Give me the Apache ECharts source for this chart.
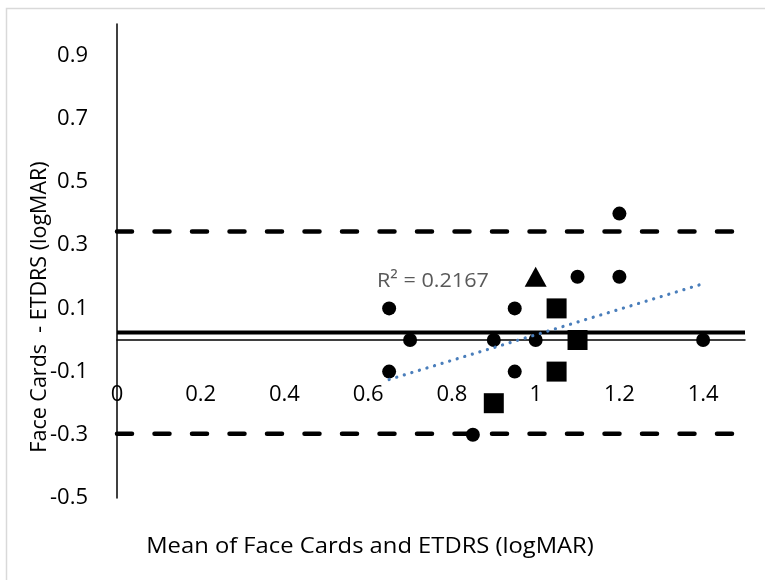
<!DOCTYPE html>
<html>
<head>
<meta charset="utf-8">
<script src="https://cdn.jsdelivr.net/npm/echarts@6/dist/echarts.min.js"></script>
<style>
  html, body { margin: 0; padding: 0; background: #ffffff; }
  #chart { width: 765px; height: 580px; }
</style>
</head>
<body>
<div id="chart"></div>
<script>
// Bland-Altman plot: difference vs. mean of Face Cards and ETDRS acuity (logMAR)

// Participants shown as circles
const circleMean = [0.65, 0.65, 0.70, 0.85, 0.90, 0.95, 0.95, 1.00, 1.10, 1.20, 1.20, 1.40];
const circleDiff = [0.10, -0.10, 0.00, -0.30, 0.00, 0.10, -0.10, 0.00, 0.20, 0.20, 0.40, 0.00];

// Participants shown as squares
const squareMean = [1.05, 1.10, 1.05, 0.90];
const squareDiff = [0.10, 0.00, -0.10, -0.20];

// Participant shown as a triangle
const triangleMean = [1.00];
const triangleDiff = [0.20];

// Mean difference and 95% limits of agreement
const meanDiff = 0.024;
const upperLimit = 0.343;
const lowerLimit = -0.297;

// Linear trend of difference against mean
const trendMean = [0.65, 1.40];
const trendDiff = [-0.125, 0.178];
const trendR2 = '0.2167';

// Axis ranges and tick labels
const xRange = [0, 1.5];
const yRange = [-0.5, 1.0];
const xTickLabels = ['0', '0.2', '0.4', '0.6', '0.8', '1', '1.2', '1.4'];
const yTickLabels = ['-0.5', '-0.3', '-0.1', '0.1', '0.3', '0.5', '0.7', '0.9'];

const FONT = '"Open Sans"';

function zip(xs, ys) { return xs.map((x, i) => [x, ys[i]]); }
function horizontal(y) { return [[xRange[0], y], [xRange[1], y]]; }
function tickFormatter(list) {
  return function (v) {
    const hit = list.find(l => Math.abs(parseFloat(l) - v) < 1e-9);
    return hit === undefined ? '' : hit;
  };
}

const chart = echarts.init(document.getElementById('chart'), null, { renderer: 'canvas' });

chart.setOption({
  animation: false,
  backgroundColor: '#ffffff',
  grid: { left: 117, right: 20, top: 24, bottom: 82, containLabel: false },
  xAxis: {
    type: 'value',
    min: xRange[0], max: xRange[1], interval: 0.1,
    axisLine: { show: true, onZero: true, lineStyle: { color: '#000000', width: 1.5 } },
    axisTick: { show: false },
    splitLine: { show: false },
    axisLabel: {
      show: true, margin: -114, color: '#000000',
      fontFamily: FONT, fontSize: 22, verticalAlign: 'top',
      formatter: tickFormatter(xTickLabels),
      showMinLabel: true, showMaxLabel: true, hideOverlap: false
    }
  },
  yAxis: {
    type: 'value',
    min: yRange[0], max: yRange[1], interval: 0.1,
    axisLine: { show: true, onZero: false, lineStyle: { color: '#000000', width: 1.5 } },
    axisTick: { show: false },
    splitLine: { show: false },
    axisLabel: {
      show: true, margin: 29, color: '#000000',
      fontFamily: FONT, fontSize: 22,
      formatter: tickFormatter(yTickLabels),
      showMinLabel: true, showMaxLabel: true, hideOverlap: false
    }
  },
  graphic: [
    {
      type: 'rect', silent: true, z: -10,
      shape: { x: 6.5, y: 8.5, width: 800, height: 600 },
      style: { fill: 'none', stroke: '#d9d9d9', lineWidth: 1.5 }
    },
    {
      type: 'text', silent: true,
      x: 40, y: 307, rotation: Math.PI / 2,
      style: {
        text: 'Face Cards  - ETDRS (logMAR)',
        fill: '#000000', font: '21.5px ' + FONT,
        align: 'center', verticalAlign: 'middle'
      }
    },
    {
      type: 'text', silent: true,
      x: 370, y: 547, scaleX: 1.08,
      style: {
        text: 'Mean of Face Cards and ETDRS (logMAR)',
        fill: '#000000', font: '22px ' + FONT,
        align: 'center', verticalAlign: 'middle'
      }
    },
    {
      type: 'text', silent: true,
      x: 377, y: 281, scaleX: 1.08,
      style: {
        text: 'R² = ' + trendR2,
        fill: '#595959', font: '20px ' + FONT,
        align: 'left', verticalAlign: 'middle'
      }
    }
  ],
  series: [
    {
      name: 'Upper limit', type: 'line', data: horizontal(upperLimit),
      symbol: 'none', silent: true, z: 1,
      lineStyle: { color: '#000000', width: 4.5, type: [15, 22.5], cap: 'round' }
    },
    {
      name: 'Lower limit', type: 'line', data: horizontal(lowerLimit),
      symbol: 'none', silent: true, z: 1,
      lineStyle: { color: '#000000', width: 4.5, type: [15, 22.5], cap: 'round' }
    },
    {
      name: 'Mean difference', type: 'line', data: horizontal(meanDiff),
      symbol: 'none', silent: true, z: 1,
      lineStyle: { color: '#000000', width: 4, type: 'solid' }
    },
    {
      name: 'Circles', type: 'scatter', data: zip(circleMean, circleDiff),
      symbol: 'circle', symbolSize: 14, z: 3,
      itemStyle: { color: '#000000', opacity: 1 }
    },
    {
      name: 'Squares', type: 'scatter', data: zip(squareMean, squareDiff),
      symbol: 'rect', symbolSize: 20, z: 3,
      itemStyle: { color: '#000000', opacity: 1 }
    },
    {
      name: 'Triangle', type: 'scatter', data: zip(triangleMean, triangleDiff),
      symbol: 'triangle', symbolSize: [22, 20], z: 3,
      itemStyle: { color: '#000000', opacity: 1 }
    },
    {
      name: 'Trend', type: 'line', data: zip(trendMean, trendDiff),
      symbol: 'none', silent: true, z: 4,
      lineStyle: { color: '#4a7ebb', width: 3.2, type: [0.1, 7.8], cap: 'round' }
    }
  ]
});
</script>
</body>
</html>
